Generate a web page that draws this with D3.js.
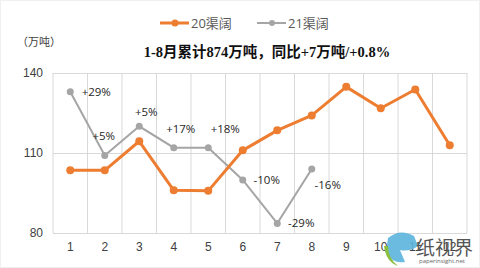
<!DOCTYPE html>
<html>
<head>
<meta charset="utf-8">
<script src="https://cdn.jsdelivr.net/npm/d3@7"></script>
<style>
  body { margin: 0; background: #fff; }
  svg { display: block; font-family: "Open Sans", "Noto Sans CJK SC", sans-serif; }
</style>
</head>
<body>
<div id="chart"></div>
<script>
var months = ["1","2","3","4","5","6","7","8","9","10","11","12"];
var series20 = [103.5, 103.5, 114.4, 96, 95.8, 111, 118.5, 124.1, 134.8, 126.8, 133.8, 112.9];
var series21 = [133, 109.1, 120, 112, 112, 99.9, 83.6, 104];
var yoyLabels = ["+29%", "+5%", "+5%", "+17%", "+18%", "-10%", "-29%", "-16%"];
var yTicks = [80, 110, 140];
var seriesNames = ["20渠阔", "21渠阔"];

var width = 480, height = 268;
var margin = {top: 73, right: 13, bottom: 35, left: 53};
var orange = "#ED7D31", grey = "#A5A5A5";

var svg = d3.select("#chart").append("svg")
    .attr("width", width)
    .attr("height", height);

svg.append("rect")
    .attr("x", 0.5).attr("y", 0.5)
    .attr("width", width - 1).attr("height", height - 1)
    .attr("fill", "#fff").attr("stroke", "#f0f0f0");

var x = d3.scaleBand()
    .domain(months)
    .range([margin.left, width - margin.right]);

var y = d3.scaleLinear()
    .domain([80, 140])
    .range([height - margin.bottom, margin.top]);

// vertical grid at category boundaries
var bounds = months.map(function(m) { return x(m); }).concat([x.range()[1]]);
svg.append("g").selectAll("line")
    .data(bounds)
    .enter().append("line")
    .attr("x1", function(d) { return d; })
    .attr("x2", function(d) { return d; })
    .attr("y1", y(140))
    .attr("y2", y(80))
    .attr("stroke", "#d9d9d9")
    .attr("stroke-width", 1);

// horizontal grid
svg.append("g").selectAll("line")
    .data(yTicks)
    .enter().append("line")
    .attr("x1", x.range()[0])
    .attr("x2", x.range()[1])
    .attr("y1", function(d) { return Math.round(y(d)) + 0.5; })
    .attr("y2", function(d) { return Math.round(y(d)) + 0.5; })
    .attr("stroke", "#d9d9d9");

var yAxis = d3.axisLeft(y).tickValues(yTicks).tickSize(0).tickPadding(10);
svg.append("g")
    .attr("transform", "translate(" + margin.left + ",0)")
    .call(yAxis)
    .call(function(g) { g.select(".domain").remove(); })
    .selectAll("text")
    .attr("font-size", "12px")
    .attr("fill", "#404040");

var xAxis = d3.axisBottom(x).tickSize(0).tickPadding(9);
svg.append("g")
    .attr("transform", "translate(0," + y(80) + ")")
    .call(xAxis)
    .call(function(g) { g.select(".domain").remove(); })
    .selectAll("text")
    .attr("font-size", "12px")
    .attr("fill", "#404040");

function cx(i) { return x(months[i]) + x.bandwidth() / 2; }

var line = d3.line()
    .x(function(d, i) { return cx(i); })
    .y(function(d) { return y(d); });

svg.append("path")
    .datum(series21)
    .attr("d", line)
    .attr("fill", "none")
    .attr("stroke", grey)
    .attr("stroke-width", 2);

svg.append("g").selectAll("circle")
    .data(series21)
    .enter().append("circle")
    .attr("cx", function(d, i) { return cx(i); })
    .attr("cy", function(d) { return y(d); })
    .attr("r", 3.5)
    .attr("fill", grey);

svg.append("path")
    .datum(series20)
    .attr("d", line)
    .attr("fill", "none")
    .attr("stroke", orange)
    .attr("stroke-width", 3)
    .attr("stroke-linejoin", "round");

svg.append("g").selectAll("circle")
    .data(series20)
    .enter().append("circle")
    .attr("cx", function(d, i) { return cx(i); })
    .attr("cy", function(d) { return y(d); })
    .attr("r", 4)
    .attr("fill", orange);

// yoy labels: offsets relative to the grey point
var labelOff = [[26, 0], [-1, -19], [7, -14], [7, -19], [17, -19], [24, 0], [24, 0], [16, 16]];
svg.append("g").selectAll("text")
    .data(yoyLabels)
    .enter().append("text")
    .attr("x", function(d, i) { return cx(i) + labelOff[i][0]; })
    .attr("y", function(d, i) { return y(series21[i]) + labelOff[i][1]; })
    .attr("dy", "0.35em")
    .attr("text-anchor", "middle")
    .attr("font-size", "11.5px")
    .attr("fill", "#262626")
    .text(function(d) { return d; });

// legend
var legend = svg.append("g").attr("transform", "translate(0,23)");
[[160, orange, 3], [257, grey, 2]].forEach(function(l, i) {
    legend.append("line")
        .attr("x1", l[0]).attr("x2", l[0] + 29)
        .attr("stroke", l[1]).attr("stroke-width", l[2]);
    legend.append("circle")
        .attr("cx", l[0] + 15).attr("r", i === 0 ? 3.5 : 3)
        .attr("fill", l[1]);
    legend.append("text")
        .attr("x", l[0] + 31).attr("dy", "0.35em")
        .attr("font-size", "13px")
        .attr("fill", "#595959")
        .text(seriesNames[i]);
});

svg.append("text")
    .attr("x", 17).attr("y", 46)
    .attr("font-size", "11px")
    .attr("fill", "#404040")
    .text("（万吨）");

svg.append("text")
    .attr("x", 267).attr("y", 52)
    .attr("dy", "0.35em")
    .attr("text-anchor", "middle")
    .attr("font-family", "'Liberation Serif', 'Noto Sans CJK SC', serif")
    .attr("font-weight", "bold")
    .attr("font-size", "14.5px")
    .attr("fill", "#111")
    .text("1-8月累计874万吨，同比+7万吨/+0.8%");

// watermark
var wm = svg.append("g");
wm.append("path")
    .attr("d", "M388,238 Q400,228 414,236 L418,246 Q410,252 400,250 L405,262 Q392,264 386,252 Z")
    .attr("fill", "#5bb4dd").attr("opacity", 0.9);
wm.append("path")
    .attr("d", "M384,246 Q386,262 398,266 Q388,258 388,246 Z")
    .attr("fill", "#8bbf3f");
wm.append("text")
    .attr("x", 416).attr("y", 255)
    .attr("font-size", "19px")
    .attr("fill", "#555")
    .text("纸视界");
wm.append("text")
    .attr("x", 419).attr("y", 263)
    .attr("font-size", "6px")
    .attr("fill", "#666")
    .text("paperinsight.net");
</script>
</body>
</html>
